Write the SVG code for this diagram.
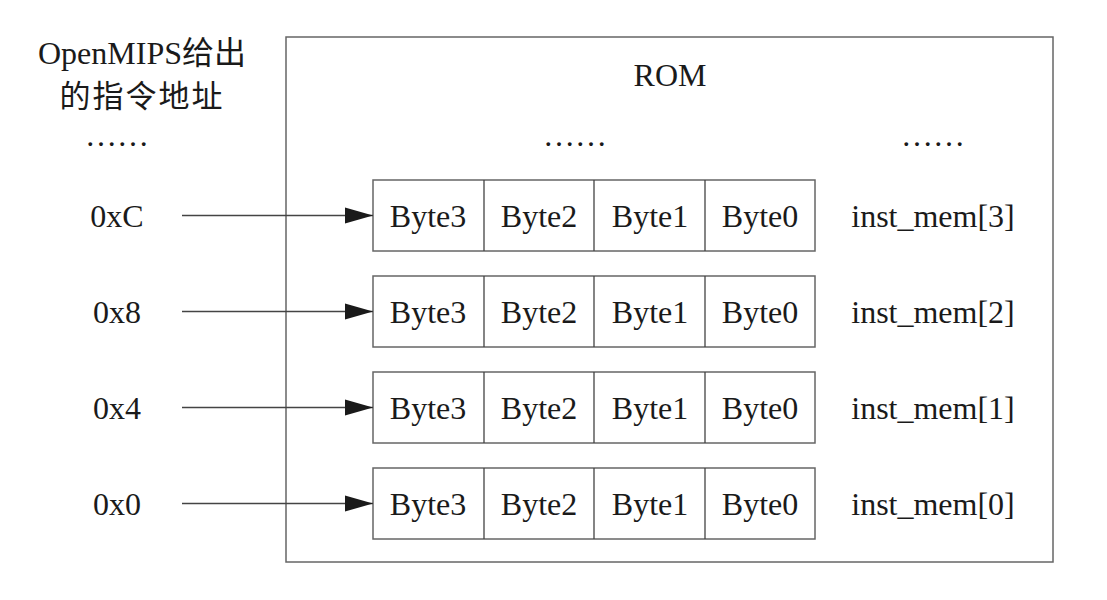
<svg xmlns="http://www.w3.org/2000/svg" width="1107" height="600" viewBox="0 0 1107 600">
<style>
.t{font-family:"Liberation Serif","Noto Sans CJK SC",serif;font-size:32px;fill:#1a1a1a;text-anchor:middle}
.b{fill:#fff;stroke:#666;stroke-width:1.5}
.c{stroke:#444;stroke-width:1.3;fill:none}
</style>
<defs>
<marker id="ah" markerUnits="userSpaceOnUse" markerWidth="28" markerHeight="18" refX="28" refY="9" orient="auto">
<path d="M0,1 L28,9 L0,17 Z" fill="#1a1a1a"/>
</marker>
</defs>
<rect width="1107" height="600" fill="#fff"/>
<g id="rom">
<rect class="b" x="286" y="37" width="767" height="525"/>
<text class="t" x="670" y="86">ROM</text>
<text class="t" x="575" y="146">……</text>
<text class="t" x="933" y="146">……</text>
</g>
<g id="addr-title">
<text class="t" x="142" y="64">OpenMIPS给出</text>
<text class="t" x="142" y="107" style="font-size:31px;letter-spacing:2px">的指令地址</text>
<text class="t" x="117" y="146">……</text>
</g>
<g id="row3">
<rect class="b" x="373" y="180" width="442" height="71"/>
<path class="c" d="M484,180V251M594,180V251M705,180V251" stroke="#666"/>
<text class="t" x="428" y="227">Byte3</text><text class="t" x="539" y="227">Byte2</text><text class="t" x="650" y="227">Byte1</text><text class="t" x="760" y="227">Byte0</text>
<text class="t" x="933" y="227">inst_mem[3]</text>
<text class="t" x="117" y="227">0xC</text>
</g>
<g id="row2">
<rect class="b" x="373" y="276" width="442" height="71"/>
<path class="c" d="M484,276V347M594,276V347M705,276V347" stroke="#666"/>
<text class="t" x="428" y="323">Byte3</text><text class="t" x="539" y="323">Byte2</text><text class="t" x="650" y="323">Byte1</text><text class="t" x="760" y="323">Byte0</text>
<text class="t" x="933" y="323">inst_mem[2]</text>
<text class="t" x="117" y="323">0x8</text>
</g>
<g id="row1">
<rect class="b" x="373" y="372" width="442" height="71"/>
<path class="c" d="M484,372V443M594,372V443M705,372V443" stroke="#666"/>
<text class="t" x="428" y="419">Byte3</text><text class="t" x="539" y="419">Byte2</text><text class="t" x="650" y="419">Byte1</text><text class="t" x="760" y="419">Byte0</text>
<text class="t" x="933" y="419">inst_mem[1]</text>
<text class="t" x="117" y="419">0x4</text>
</g>
<g id="row0">
<rect class="b" x="373" y="468" width="442" height="71"/>
<path class="c" d="M484,468V539M594,468V539M705,468V539" stroke="#666"/>
<text class="t" x="428" y="515">Byte3</text><text class="t" x="539" y="515">Byte2</text><text class="t" x="650" y="515">Byte1</text><text class="t" x="760" y="515">Byte0</text>
<text class="t" x="933" y="515">inst_mem[0]</text>
<text class="t" x="117" y="515">0x0</text>
</g>
<g id="connectors">
<line class="c" x1="182" y1="215.5" x2="373" y2="215.5" marker-end="url(#ah)"/>
<line class="c" x1="182" y1="311.5" x2="373" y2="311.5" marker-end="url(#ah)"/>
<line class="c" x1="182" y1="407.5" x2="373" y2="407.5" marker-end="url(#ah)"/>
<line class="c" x1="182" y1="503.5" x2="373" y2="503.5" marker-end="url(#ah)"/>
</g>
</svg>
